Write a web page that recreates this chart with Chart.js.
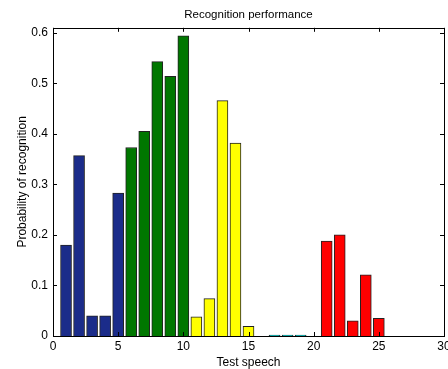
<!DOCTYPE html>
<html>
<head>
<meta charset="utf-8">
<script src="https://cdn.jsdelivr.net/npm/chart.js@4.4.0/dist/chart.umd.min.js"></script>
<style>
  html, body { margin: 0; padding: 0; background: #fff; }
</style>
</head>
<body>
<canvas id="chart" width="448" height="369"></canvas>
<script>
// test speech number, one bar each
var speechIds = [1, 2, 3, 4, 5, 6, 7, 8, 9, 10, 11, 12, 13, 14, 15, 16, 17, 18, 19, 20, 21, 22, 23, 24, 25];
var probabilities = [0.18, 0.357, 0.04, 0.04, 0.283, 0.373, 0.405, 0.543, 0.514, 0.594,
                     0.038, 0.074, 0.466, 0.382, 0.019, 0, 0.002, 0.002, 0.002, 0,
                     0.188, 0.2, 0.03, 0.121, 0.035];
// speaker group of each speech (5 per speaker)
var speakerOfSpeech = [0, 0, 0, 0, 0, 1, 1, 1, 1, 1, 2, 2, 2, 2, 2, 3, 3, 3, 3, 3, 4, 4, 4, 4, 4];
var speakerColors = ['#1b2c8a', '#007700', '#ffff00', '#00bfbf', '#ff0000'];
var xTicks = [0, 5, 10, 15, 20, 25, 30];
var yTicks = [0, 0.1, 0.2, 0.3, 0.4, 0.5, 0.6];

var font = "'Liberation Sans', Arial, sans-serif";

var points = speechIds.map(function(id, i) {
    return { x: id, y: probabilities[i] };
});
var barColors = speakerOfSpeech.map(function(g) { return speakerColors[g]; });

// matlab style box with ticks pointing inwards
var matlabBox = {
    id: 'matlabBox',
    afterDatasetsDraw: function(chart) {
        var ctx = chart.ctx;
        var a = chart.chartArea;
        var xs = chart.scales.x;
        var ys = chart.scales.y;
        ctx.save();
        ctx.strokeStyle = '#000';
        ctx.lineWidth = 1;
        ctx.beginPath();
        xTicks.forEach(function(v) {
            var px = Math.round(xs.getPixelForValue(v)) + 0.5;
            ctx.moveTo(px, a.bottom); ctx.lineTo(px, a.bottom - 4);
            ctx.moveTo(px, a.top); ctx.lineTo(px, a.top + 4);
        });
        yTicks.forEach(function(v) {
            var py = Math.round(ys.getPixelForValue(v)) + 0.5;
            ctx.moveTo(a.left, py); ctx.lineTo(a.left + 4, py);
            ctx.moveTo(a.right, py); ctx.lineTo(a.right - 4, py);
        });
        ctx.stroke();
        ctx.strokeRect(Math.round(a.left) + 0.5, Math.round(a.top) + 0.5,
                       Math.round(a.right - a.left), Math.round(a.bottom - a.top));
        ctx.restore();
    }
};

var ctx = document.getElementById('chart').getContext('2d');
var chart = new Chart(ctx, {
    type: 'bar',
    data: {
        datasets: [{
            data: points,
            backgroundColor: barColors,
            borderColor: '#222',
            borderWidth: 1,
            barThickness: 11
        }]
    },
    options: {
        responsive: false,
        animation: false,
        devicePixelRatio: 1,
        layout: { padding: { top: 0, left: 0, right: 4, bottom: 0 } },
        plugins: {
            legend: { display: false },
            tooltip: { enabled: false },
            title: {
                display: true,
                fullSize: false,
                text: 'Recognition performance',
                color: '#000',
                font: { family: font, size: 11.5, weight: 'normal', lineHeight: 1.2 },
                padding: { top: 8, bottom: 6 }
            }
        },
        scales: {
            x: {
                type: 'linear',
                min: 0,
                max: 30,
                offset: false,
                grid: { display: false, drawTicks: false, offset: false },
                border: { display: false },
                afterBuildTicks: function(scale) {
                    scale.ticks = xTicks.map(function(v) { return { value: v }; });
                },
                afterFit: function(scale) {
                    scale.height = 33;
                    scale.paddingLeft = 0;
                    scale.paddingRight = 0;
                },
                ticks: {
                    color: '#000',
                    padding: 3,
                    maxRotation: 0,
                    font: { family: font, size: 12 }
                },
                title: {
                    display: true,
                    text: 'Test speech',
                    color: '#000',
                    font: { family: font, size: 12 },
                    padding: { top: 0, bottom: -1 }
                }
            },
            y: {
                min: 0,
                max: 0.61,
                grid: { display: false, drawTicks: false },
                border: { display: false },
                afterBuildTicks: function(scale) {
                    scale.ticks = yTicks.map(function(v) { return { value: v }; });
                },
                afterFit: function(scale) {
                    scale.width = 53;
                },
                ticks: {
                    color: '#000',
                    padding: 5,
                    font: { family: font, size: 12 },
                    callback: function(v) { return String(Math.round(v * 10) / 10); }
                },
                title: {
                    display: true,
                    text: 'Probability of recognition',
                    color: '#000',
                    font: { family: font, size: 12 },
                    padding: { top: 15, bottom: 0 }
                }
            }
        }
    },
    plugins: [matlabBox]
});
</script>
</body>
</html>
